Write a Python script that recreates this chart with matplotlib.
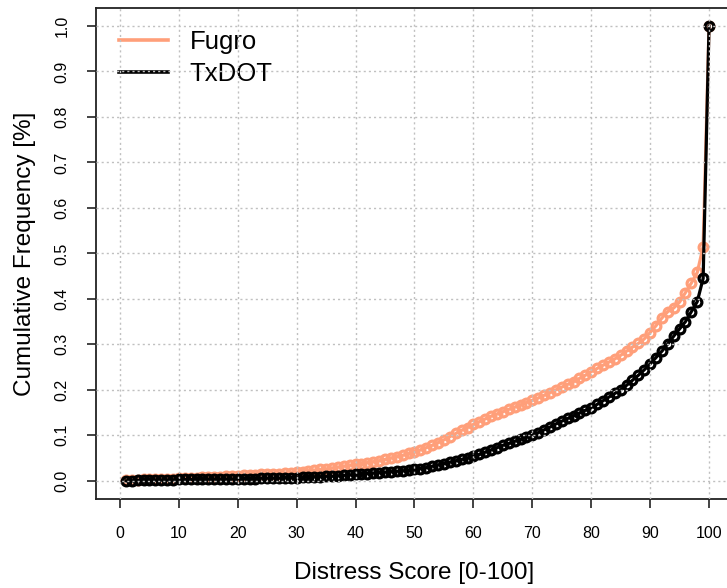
import matplotlib
matplotlib.use("Agg")
import matplotlib.pyplot as plt

plt.rcParams['font.family'] = ['Liberation Sans', 'DejaVu Sans']

# distress score (x) and cumulative frequency for both surveys
score = list(range(1, 101))

fugro = [
    0.001, 0.002, 0.002, 0.003, 0.003, 0.004, 0.004, 0.005, 0.005, 0.006,
    0.006, 0.007, 0.007, 0.008, 0.008, 0.009, 0.009, 0.010, 0.010, 0.011,
    0.012, 0.012, 0.013, 0.014, 0.015, 0.015, 0.016, 0.017, 0.018, 0.019,
    0.020, 0.022, 0.023, 0.025, 0.026, 0.028, 0.030, 0.032, 0.034, 0.036,
    0.038, 0.040, 0.042, 0.044, 0.047, 0.050, 0.053, 0.056, 0.060, 0.064,
    0.068, 0.073, 0.078, 0.084, 0.090, 0.097, 0.104, 0.111, 0.117, 0.124,
    0.130, 0.136, 0.142, 0.147, 0.152, 0.157, 0.162, 0.167, 0.172, 0.177,
    0.182, 0.188, 0.194, 0.200, 0.206, 0.212, 0.218, 0.225, 0.232, 0.240,
    0.247, 0.254, 0.261, 0.268, 0.276, 0.285, 0.294, 0.302, 0.312, 0.326,
    0.341, 0.358, 0.372, 0.380, 0.393, 0.414, 0.435, 0.458, 0.515, 1.000,
]

txdot = [
    0.000, 0.000, 0.001, 0.001, 0.001, 0.002, 0.002, 0.002, 0.002, 0.003,
    0.003, 0.003, 0.003, 0.003, 0.004, 0.004, 0.004, 0.004, 0.004, 0.005,
    0.005, 0.005, 0.005, 0.006, 0.006, 0.006, 0.006, 0.007, 0.007, 0.007,
    0.008, 0.008, 0.009, 0.009, 0.010, 0.010, 0.011, 0.012, 0.013, 0.014,
    0.015, 0.016, 0.017, 0.018, 0.019, 0.020, 0.021, 0.022, 0.023, 0.025,
    0.027, 0.029, 0.032, 0.035, 0.038, 0.041, 0.044, 0.047, 0.050, 0.054,
    0.058, 0.063, 0.068, 0.073, 0.078, 0.082, 0.087, 0.091, 0.096, 0.100,
    0.106, 0.112, 0.118, 0.125, 0.131, 0.137, 0.143, 0.149, 0.155, 0.161,
    0.168, 0.176, 0.184, 0.192, 0.200, 0.210, 0.221, 0.232, 0.244, 0.257,
    0.271, 0.285, 0.301, 0.318, 0.334, 0.350, 0.372, 0.394, 0.445, 1.000,
]

x_ticks = list(range(0, 101, 10))
y_ticks = [0.0, 0.1, 0.2, 0.3, 0.4, 0.5, 0.6, 0.7, 0.8, 0.9, 1.0]

fig = plt.figure(figsize=(7.27, 5.88), dpi=100)
# plot box runs a bit past the right edge, as in the original export
ax = fig.add_axes([0.1326, 0.1514, 0.8751, 0.8353])

ax.plot(score, fugro, color='#FF9F7A', lw=2.3, marker='o', ms=6.3,
        mfc='none', mew=2.3, label='Fugro', zorder=2)
ax.plot(score, txdot, color='black', lw=2.3, marker='o', ms=6.3,
        mfc='none', mew=2.3, label='TxDOT', zorder=2)

ax.set_xlim(-4, 104)
ax.set_ylim(-0.04, 1.04)
ax.set_xticks(x_ticks)
ax.set_yticks(y_ticks)
ax.set_yticklabels([f"{v:.1f}" for v in y_ticks], rotation=90, va='center')

ax.grid(True, color='#C0C0C0', lw=1.0, linestyle=(0, (1.5, 2.2)))
ax.set_axisbelow(False)

for s in ax.spines.values():
    s.set_color('#222222')
    s.set_linewidth(1.3)
ax.tick_params(direction='out', length=6.5, width=1.2, color='#222222',
               labelsize=11.5, pad=13)

ax.set_xlabel('Distress Score [0-100]', fontsize=17.5, labelpad=15)
ax.set_ylabel('Cumulative Frequency [%]', fontsize=17.5, labelpad=13)

leg = ax.legend(loc='upper left', bbox_to_anchor=(0.0355, 0.955), frameon=False,
                fontsize=18.5, handlelength=1.9, handletextpad=0.85,
                labelspacing=0.3, borderpad=0, borderaxespad=0)
for h in leg.get_lines():
    h.set_marker('')
    h.set_linewidth(2.6)
leg.set_zorder(2)

fig.savefig('out.png', dpi=100)
